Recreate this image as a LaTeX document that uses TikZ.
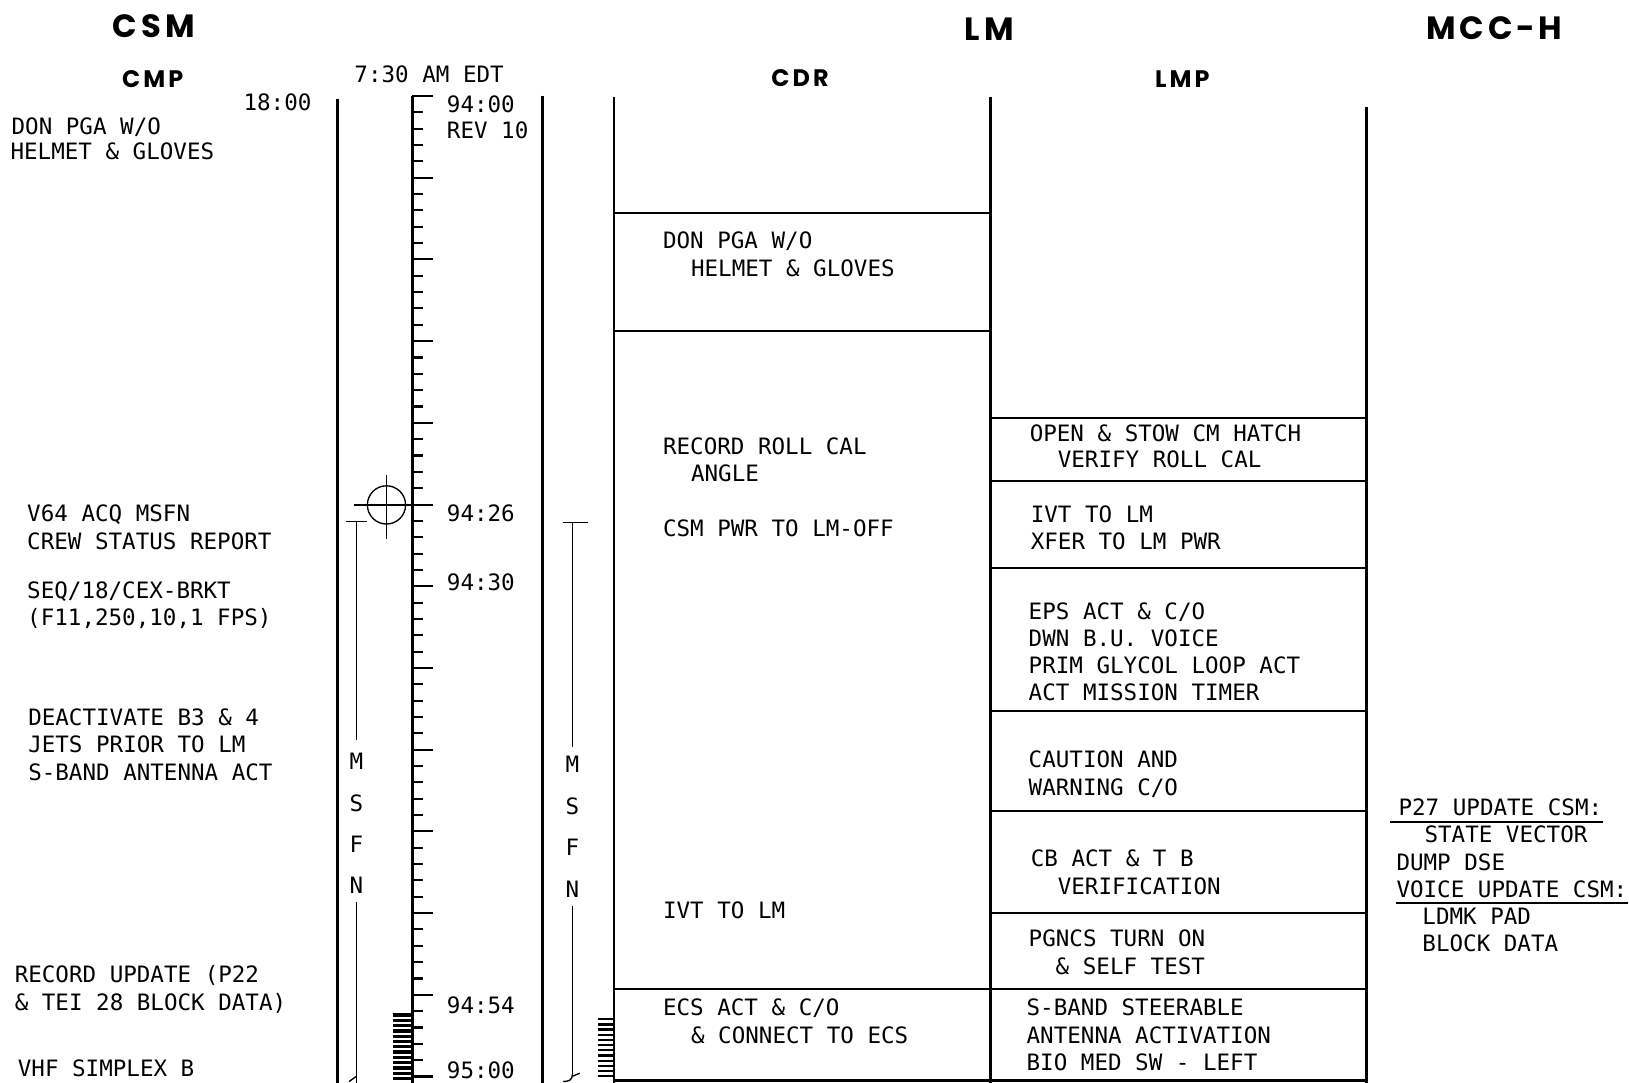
\documentclass[tikz,border=0pt]{standalone}
\usepackage{fontspec}
\setmainfont{DejaVu Sans Mono}
\newfontfamily\headf{Poppins}
\newcommand\mtext[4]{\node[txt] (#1) at (#2,#3) {#4};}
\begin{document}
\begin{tikzpicture}[x=1pt,y=-1pt,
  txt/.style={font=\fontsize{21.7}{26}\selectfont, inner sep=0pt, anchor=base west},
  letter/.style={font=\fontsize{21.7}{26}\selectfont, inner sep=0pt, anchor=center},
  headbig/.style={font=\headf\bfseries\fontsize{31}{33}\selectfont, inner sep=0pt, anchor=center},
  headsm/.style={font=\headf\bfseries\fontsize{23}{25}\selectfont, inner sep=0pt, anchor=center},
  vline/.style={line width=2.8pt},
  hline/.style={line width=2pt},
  tick/.style={line width=2pt},
  thinl/.style={line width=1.3pt},
  uline/.style={line width=2pt}]
\useasboundingbox (0,0) rectangle (1568,1042);
\fill[white] (0,0) rectangle (1568,1042);

% headings
\node[headbig] (hcsm) at (148,25) {C\kern4pt S\kern4pt M};
\node[headbig] (hlm) at (952,28) {L\kern4pt M};
\node[headbig] (hmcc) at (1438,27) {M\kern4pt C\kern4pt C\kern3pt-\kern3pt H};
\node[headsm] (hcmp) at (147,76) {C\kern3pt M\kern3pt P};
\node[headsm] (hcdr) at (770,75) {C\kern3pt D\kern3pt R};
\node[headsm] (hlmp) at (1138,76) {L\kern3pt M\kern3pt P};

% main vertical lines
\draw[vline] (325,95) -- (325,1042);
\draw[vline] (397,92) -- (397,1042);
\draw[vline] (522,92) -- (522,1042);
\draw[vline] (591,93) -- (591,1042);
\draw[vline] (953,93) -- (953,1042);
\draw[vline] (1315,103) -- (1315,1042);

% time scale ticks
\foreach \i in {0,...,60} {
  \pgfmathsetmacro\yy{92.4+15.73*\i}
  \pgfmathsetmacro\ll{mod(\i,5)==0 ? 20 : 10}
  \draw[tick] (397,\yy) -- ++(\ll,0);
}
% ladders
\foreach \i in {0,...,12} \draw[line width=3.2pt] (378,{977+5.1*\i}) -- (397,{977+5.1*\i});
\foreach \i in {0,...,11} \draw[line width=2.2pt] (576,{981+5*\i}) -- (591,{981+5*\i});

% crosshair
\draw[thinl] (372,486) circle[radius=18.4];
\draw[thinl] (372,457) -- (372,519);
\draw[thinl] (341,486) -- (397,486);

% MSFN lines
\draw[thinl] (333,502) -- (353,502);
\draw[thinl] (343,502) -- (343,712);
\draw[thinl] (343,868) -- (343,1042);
\draw[thinl] (336,1041) -- (343,1036);
\node[letter] (lm1) at (343,733) {M};
\node[letter] (ls1) at (343,773) {S};
\node[letter] (lf1) at (343,813) {F};
\node[letter] (ln1) at (343,852) {N};
\draw[thinl] (542,503) -- (566,503);
\draw[thinl] (551,503) -- (551,719);
\draw[thinl] (551,872) -- (551,1034);
\draw[thinl] (551,1034) .. controls (551,1040) and (547,1041) .. (542,1041);
\draw[thinl] (551,1036) -- (558,1033);
\node[letter] (lm2) at (551,736) {M};
\node[letter] (ls2) at (551,776) {S};
\node[letter] (lf2) at (551,816) {F};
\node[letter] (ln2) at (551,856) {N};

% CDR box lines
\draw[hline] (591,205) -- (953,205);
\draw[hline] (591,319) -- (953,319);
\draw[hline] (591,952) -- (953,952);
% LMP box lines
\foreach \yy in {402,463,547,684,781,879,952} \draw[hline] (953,\yy) -- (1315,\yy);
\draw[line width=3pt] (591,1040) -- (1315,1040);

% timeline labels
\mtext{tedt}{341}{79}{7:30 AM EDT}
\node[txt,anchor=base east] (t1800) at (300,106) {18:00};
\mtext{t9400}{430}{108}{94:00}
\mtext{trev}{430}{133}{REV 10}
\mtext{t9426}{430}{502}{94:26}
\mtext{t9430}{430}{568}{94:30}
\mtext{t9454}{430}{976}{94:54}
\mtext{t9500}{430}{1038}{95:00}

% CMP column
\mtext{c1a}{11}{129}{DON PGA W/O}
\mtext{c1b}{10}{154}{HELMET \& GLOVES}
\mtext{c2a}{26}{502}{V64 ACQ MSFN}
\mtext{c2b}{26}{529}{CREW STATUS REPORT}
\mtext{c3a}{26}{576}{SEQ/18/CEX-BRKT}
\mtext{c3b}{26}{602}{(F11,250,10,1 FPS)}
\mtext{c4a}{27}{698}{DEACTIVATE B3 \& 4}
\mtext{c4b}{27}{724}{JETS PRIOR TO LM}
\mtext{c4c}{27}{751}{S-BAND ANTENNA ACT}
\mtext{c5a}{14}{946}{RECORD UPDATE (P22}
\mtext{c5b}{14}{973}{\& TEI 28 BLOCK DATA)}
\mtext{c6}{17}{1036}{VHF SIMPLEX B}

% CDR column
\mtext{d1a}{638}{239}{DON PGA W/O}
\mtext{d1b}{665}{266}{HELMET \& GLOVES}
\mtext{d2a}{638}{437}{RECORD ROLL CAL}
\mtext{d2b}{665}{463}{ANGLE}
\mtext{d3}{638}{516}{CSM PWR TO LM-OFF}
\mtext{d4}{638}{884}{IVT TO LM}
\mtext{d5a}{638}{977}{ECS ACT \& C/O}
\mtext{d5b}{665}{1004}{\& CONNECT TO ECS}

% LMP column
\mtext{l1a}{991}{425}{OPEN \& STOW CM HATCH}
\mtext{l1b}{1018}{450}{VERIFY ROLL CAL}
\mtext{l2a}{992}{503}{IVT TO LM}
\mtext{l2b}{992}{529}{XFER TO LM PWR}
\mtext{l3a}{990}{596}{EPS ACT \& C/O}
\mtext{l3b}{990}{622}{DWN B.U. VOICE}
\mtext{l3c}{990}{648}{PRIM GLYCOL LOOP ACT}
\mtext{l3d}{990}{674}{ACT MISSION TIMER}
\mtext{l4a}{990}{739}{CAUTION AND}
\mtext{l4b}{990}{766}{WARNING C/O}
\mtext{l5a}{992}{834}{CB ACT \& T B}
\mtext{l5b}{1018}{861}{VERIFICATION}
\mtext{l6a}{990}{911}{PGNCS TURN ON}
\mtext{l6b}{1016}{938}{\& SELF TEST}
\mtext{l7a}{988}{977}{S-BAND STEERABLE}
\mtext{l7b}{988}{1004}{ANTENNA ACTIVATION}
\mtext{l7c}{988}{1030}{BIO MED SW - LEFT}

% MCC-H column
\mtext{m1}{1346}{785}{P27 UPDATE CSM:}
\mtext{m2}{1371}{811}{STATE VECTOR}
\mtext{m3}{1344}{838}{DUMP DSE}
\mtext{m4}{1344}{864}{VOICE UPDATE CSM:}
\mtext{m5}{1369}{890}{LDMK PAD}
\mtext{m6}{1369}{916}{BLOCK DATA}
\draw[uline] ([xshift=-8pt,yshift=-6pt]m1.base west) -- ([xshift=1pt,yshift=-6pt]m1.base east);
\draw[uline] ([xshift=0pt,yshift=-5pt]m4.base west) -- ([xshift=1pt,yshift=-5pt]m4.base east);
\end{tikzpicture}
\end{document}
